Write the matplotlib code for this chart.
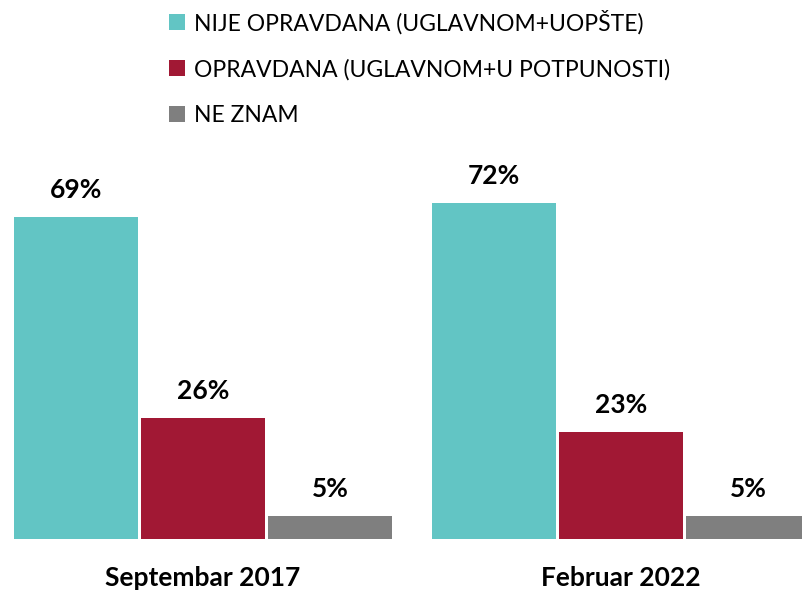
import numpy as np
import matplotlib.pyplot as plt

plt.rcParams['font.family'] = ['Lato', 'DejaVu Sans']

periods = ["Septembar 2017", "Februar 2022"]
series = ["NIJE OPRAVDANA (UGLAVNOM+UOPŠTE)",
          "OPRAVDANA (UGLAVNOM+U POTPUNOSTI)",
          "NE ZNAM"]
values = [[69, 72], [26, 23], [5, 5]]
colors = ["#62C5C4", "#A11834", "#7F7F7F"]

fig = plt.figure(figsize=(8.02, 5.90), dpi=100)
# axes: bottom at baseline (y=539px), right edge at image edge
ax = fig.add_axes([0, 51 / 590, 1, 389 / 590])

x = np.arange(len(periods))
w = 124 / 418
step = 127 / 418
for i, (name, vals, c) in enumerate(zip(series, values, colors)):
    pos = x + (i - 1) * step
    bars = ax.bar(pos, vals, width=w, color=c, label=name)
    for b, v in zip(bars, vals):
        ax.text(b.get_x() + b.get_width() / 2, v + 4.1, f"{v}%",
                ha="center", va="baseline", fontsize=19, fontweight="bold")

ax.set_xlim(-203 / 418, 599 / 418)
ax.set_ylim(0, 389 / 4.66)
ax.axis("off")

for xi, p in zip(x, periods):
    fig.text((203 + xi * 418) / 802, 12 / 590, p, ha="center", va="center",
             fontsize=19, fontweight="bold")

leg = fig.legend(loc="upper left", bbox_to_anchor=(148 / 802, 1.018), frameon=False,
                 fontsize=16.5, handlelength=0.7, handleheight=0.7, handletextpad=0.4,
                 labelspacing=1.07)

fig.savefig("out.png", dpi=100)
